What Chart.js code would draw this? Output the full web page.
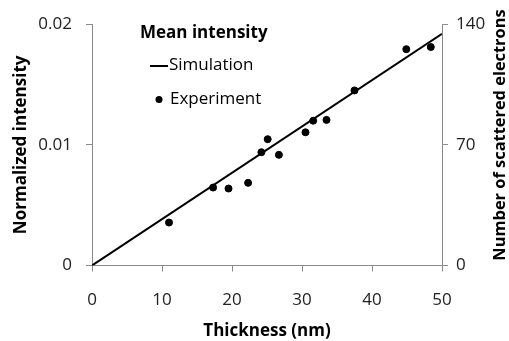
<!DOCTYPE html>
<html>
<head>
<meta charset="utf-8">
<script src="https://cdn.jsdelivr.net/npm/chart.js@4"></script>
<style>
  html, body { margin: 0; padding: 0; background: #fff; }
  #wrap { width: 509px; height: 341px; }
</style>
</head>
<body>
<div id="wrap"><canvas id="chart" width="509" height="341"></canvas></div>
<script>
// experiment points: thickness (nm) and normalized intensity
const expThickness = [11.0, 17.3, 19.5, 22.3, 24.2, 25.1, 26.7, 30.5, 31.6, 33.5, 37.5, 44.9, 48.4];
const expIntensity = [0.00356, 0.00646, 0.00638, 0.00685, 0.00939, 0.01047, 0.00917, 0.01104, 0.0120, 0.01207, 0.01451, 0.01793, 0.01811];

// simulation line
const simThickness = [0, 50];
const simIntensity = [0, 0.0192];

const xTicks = [0, 10, 20, 30, 40, 50];
const leftTicks = [0, 0.01, 0.02];
const rightTicks = [0, 70, 140];

const FONT = "'Open Sans', sans-serif";
const AXIS = '#8a8a8a';

const legendPlugin = {
  id: 'customLegend',
  afterDraw(chart) {
    const c = chart.ctx;
    c.save();
    c.fillStyle = '#000';
    c.textBaseline = 'middle';
    c.font = 'bold 17px ' + FONT;
    c.fillText('Mean intensity', 140, 33);
    c.font = '17px ' + FONT;
    c.strokeStyle = '#000';
    c.lineWidth = 2;
    c.beginPath();
    c.moveTo(150, 66);
    c.lineTo(168, 66);
    c.stroke();
    c.fillText('Simulation', 169, 65);
    c.beginPath();
    c.arc(159, 99.5, 3.5, 0, Math.PI * 2);
    c.fill();
    c.fillText('Experiment', 170, 99);

    // right axis title reads bottom to top, like the left one
    c.translate(500, 135);
    c.rotate(-Math.PI / 2);
    c.textAlign = 'center';
    c.font = 'bold 16.4px ' + FONT;
    c.fillText('Number of scattered electrons', 0, 0);
    c.restore();
  }
};

new Chart(document.getElementById('chart').getContext('2d'), {
  type: 'scatter',
  data: {
    datasets: [
      {
        label: 'Simulation',
        type: 'line',
        data: simThickness.map((x, i) => ({ x: x, y: simIntensity[i] })),
        borderColor: '#000',
        borderWidth: 2,
        pointRadius: 0,
        yAxisID: 'y'
      },
      {
        label: 'Experiment',
        data: expThickness.map((x, i) => ({ x: x, y: expIntensity[i] })),
        backgroundColor: '#000',
        borderColor: '#000',
        pointRadius: 3.5,
        yAxisID: 'y'
      }
    ]
  },
  options: {
    responsive: false,
    animation: false,
    layout: { padding: { top: 19, right: 0, left: 0, bottom: 0 } },
    plugins: { legend: { display: false }, tooltip: { enabled: false } },
    scales: {
      x: {
        type: 'linear',
        min: 0, max: 50,
        afterBuildTicks: s => { s.ticks = xTicks.map(v => ({ value: v })); },
        afterFit: s => { s.height = 75.5; },
        grid: { drawOnChartArea: false, drawTicks: true, tickLength: 6, color: AXIS },
        border: { color: AXIS, width: 1 },
        ticks: { color: '#222', font: { family: FONT, size: 17 }, padding: 18, maxRotation: 0 },
        title: { display: true, text: 'Thickness (nm)', color: '#000', font: { family: FONT, size: 17, weight: 'bold', lineHeight: 1 }, padding: { top: 0, bottom: 1 } }
      },
      y: {
        position: 'left',
        min: 0, max: 0.02,
        afterBuildTicks: s => { s.ticks = leftTicks.map(v => ({ value: v })); },
        afterFit: s => { s.width = 92; },
        grid: { drawOnChartArea: false, drawTicks: true, tickLength: 6, color: AXIS },
        border: { color: AXIS, width: 1 },
        ticks: { color: '#222', font: { family: FONT, size: 17 }, padding: 14, callback: v => String(v) },
        title: { display: true, text: 'Normalized intensity', color: '#000', font: { family: FONT, size: 17, weight: 'bold' }, padding: { top: 11, bottom: 0 } }
      },
      y2: {
        position: 'right',
        min: 0, max: 140,
        afterBuildTicks: s => { s.ticks = rightTicks.map(v => ({ value: v })); },
        afterFit: s => { s.width = 67; },
        grid: { drawOnChartArea: false, drawTicks: true, tickLength: 6, color: AXIS },
        border: { color: AXIS, width: 1 },
        ticks: { color: '#222', font: { family: FONT, size: 17 }, padding: 8, callback: v => String(v) },
        title: { display: false }
      }
    }
  },
  plugins: [legendPlugin]
});
</script>
</body>
</html>
